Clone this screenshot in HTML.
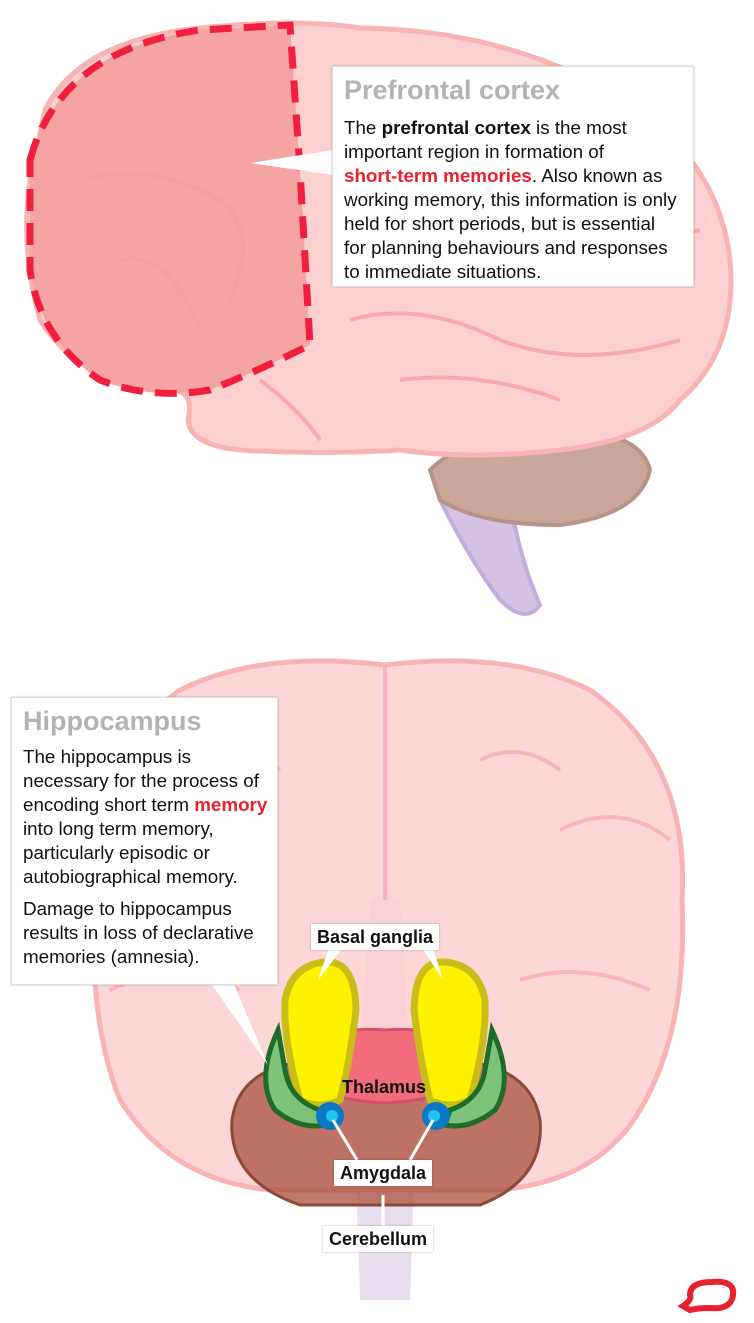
<!DOCTYPE html>
<html><head><meta charset="utf-8"><style>
html,body{margin:0;padding:0;background:#fff;}
body{width:754px;height:1323px;position:relative;overflow:hidden;font-family:"Liberation Sans",Arial,sans-serif;}
.box{position:absolute;background:#fff;border:1px solid #ddd;box-shadow:0 0 2px rgba(0,0,0,.25);color:#111;white-space:nowrap;}
.box h2{margin:0;color:#b3b3b3;font-size:27px;font-weight:bold;}
.box p{margin:0;font-size:18.8px;line-height:24px;}
.red{color:#e8202f;font-weight:bold;}
.lbl{position:absolute;background:#fff;font-weight:bold;font-size:18px;color:#111;padding:2px 6px;line-height:22px;box-shadow:0 0 2px rgba(0,0,0,.3);}
</style></head><body>
<svg width="754" height="1323" style="position:absolute;left:0;top:0">
<!-- top brain -->
<path d="M440,500 Q470,560 500,600 Q525,625 540,605 Q520,560 510,500 Z" fill="#d4c2e2" stroke="#c3aedb" stroke-width="4"/>
<path d="M430,470 Q470,430 560,430 Q640,430 650,470 Q640,515 560,525 Q480,525 440,500 Z" fill="#c9a69a" stroke="#b89488" stroke-width="4"/>
<path d="M45,110 Q80,40 200,28 Q300,18 360,28 Q520,30 640,110 Q720,170 730,260 Q738,350 680,400 Q650,440 560,450 Q470,460 400,450 Q320,455 240,450 Q190,445 188,420 Q195,390 170,390 Q80,385 40,320 Q20,250 30,180 Z" fill="#fdd0d0" stroke="#f8b4b4" stroke-width="5"/>
<path d="M30,160 Q60,50 200,30 L290,25 L300,170 L310,345 Q260,370 210,390 Q150,400 100,380 Q40,340 30,270 Z" fill="#f5a3a3" stroke="#f01f3d" stroke-width="7" stroke-dasharray="22,12"/>
<g fill="none" stroke="#f6a0a0" stroke-width="4" opacity=".8">
<path d="M80,180 Q150,160 220,200 Q260,230 230,300"/><path d="M120,260 Q170,250 200,330"/>
<path d="M350,320 Q420,300 500,340 Q580,370 680,340"/><path d="M400,380 Q480,370 560,400"/>
<path d="M260,380 Q300,410 320,440"/><path d="M620,200 Q660,240 700,230"/>
</g>
<!-- bottom brain -->
<path d="M355,1140 L370,900 Q385,890 400,900 L415,1140 L410,1300 L360,1300 Z" fill="#e3d6ea" opacity=".8"/>
<path d="M95,900 Q80,760 180,690 Q260,650 385,665 Q510,650 590,690 Q690,760 682,900 Q688,1030 640,1110 Q600,1180 500,1190 L270,1190 Q170,1180 120,1100 Q88,1020 95,900 Z" fill="#fdd0d0" fill-opacity=".85" stroke="#f8b4b4" stroke-width="5"/>
<path d="M385,665 L385,900" stroke="#f8b4b4" stroke-width="4"/>
<g fill="none" stroke="#f6a8a8" stroke-width="4" opacity=".7">
<path d="M110,830 Q170,800 220,840"/><path d="M560,830 Q620,800 670,840"/>
<path d="M480,760 Q520,740 560,770"/><path d="M200,760 Q240,740 280,770"/>
<path d="M520,980 Q580,960 650,990"/><path d="M110,990 Q170,960 240,990"/>
</g>
<path d="M232,1120 Q240,1060 330,1060 Q385,1055 440,1060 Q530,1060 540,1120 Q545,1180 480,1205 L300,1205 Q228,1180 232,1120 Z" fill="#a8503f" fill-opacity=".75" stroke="#8a4a3a" stroke-width="3"/>
<path d="M300,1060 Q315,1025 385,1030 Q455,1025 470,1060 Q475,1098 385,1103 Q295,1098 300,1060 Z" fill="#f26c7c" stroke="#d6506a" stroke-width="3"/>
<path d="M325,962 Q355,960 356,1010 Q350,1060 340,1100 Q320,1110 300,1100 Q283,1040 285,1000 Q292,965 325,962 Z" fill="#fff200" stroke="#c9bd1a" stroke-width="7"/>
<path d="M445,962 Q415,960 414,1010 Q420,1060 430,1100 Q450,1110 470,1100 Q487,1040 485,1000 Q478,965 445,962 Z" fill="#fff200" stroke="#c9bd1a" stroke-width="7"/>
<path d="M278,1030 Q255,1080 275,1110 Q300,1130 325,1125 L320,1110 Q290,1100 285,1070 Z" fill="#7dc47a" stroke="#1f6b2a" stroke-width="5"/>
<path d="M492,1030 Q515,1080 495,1110 Q470,1130 445,1125 L450,1110 Q480,1100 485,1070 Z" fill="#7dc47a" stroke="#1f6b2a" stroke-width="5"/>
<circle cx="330" cy="1116" r="14" fill="#0b78c4"/><circle cx="332" cy="1116" r="6" fill="#21c4ee"/>
<circle cx="436" cy="1116" r="14" fill="#0b78c4"/><circle cx="434" cy="1116" r="6" fill="#21c4ee"/>
<!-- pointers -->
<polygon points="333,150 250,163 333,175" fill="#fff"/>
<polygon points="205,975 268,1065 230,975" fill="#fff"/>
<polygon points="330,945 318,980 345,945" fill="#fff"/>
<polygon points="432,945 443,980 420,945" fill="#fff"/>
<line x1="333" y1="1120" x2="357" y2="1160" stroke="#fff" stroke-width="3"/>
<line x1="433" y1="1120" x2="410" y2="1160" stroke="#fff" stroke-width="3"/>
<line x1="383" y1="1195" x2="383" y2="1226" stroke="#fff" stroke-width="3"/>
<!-- logo -->
<path d="M712,1282 Q735,1280 733,1295 Q731,1310 710,1308 Q698,1308 690,1310 L683,1306 Q692,1300 690,1295 Q690,1282 712,1282 Z" fill="none" stroke="#e8202f" stroke-width="6"/>
</svg>
<div class="box" style="left:332px;top:66px;width:337px;height:197px;padding:8px 12px 14px 11px;">
<h2>Prefrontal cortex</h2>
<p style="margin-top:10px">The <b>prefrontal cortex</b> is the most<br>important region in formation of<br><span class="red">short-term memories</span>. Also known as<br>working memory, this information is only<br>held for short periods, but is essential<br>for planning behaviours and responses<br>to immediate situations.</p>
</div>
<div class="box" style="left:11px;top:697px;width:249px;height:268px;padding:8px 5px 10px 11px;">
<h2>Hippocampus</h2>
<p style="margin-top:8px">The hippocampus is<br>necessary for the process of<br>encoding short term <span class="red">memory</span><br>into long term memory,<br>particularly episodic or<br>autobiographical memory.</p>
<p style="margin-top:8px">Damage to hippocampus<br>results in loss of declarative<br>memories (amnesia).</p>
</div>
<div class="lbl" style="left:311px;top:924px;">Basal ganglia</div>
<div class="lbl" style="left:336px;top:1074px;background:none;box-shadow:none;">Thalamus</div>
<div class="lbl" style="left:334px;top:1160px;">Amygdala</div>
<div class="lbl" style="left:323px;top:1226px;">Cerebellum</div>
</body></html>
